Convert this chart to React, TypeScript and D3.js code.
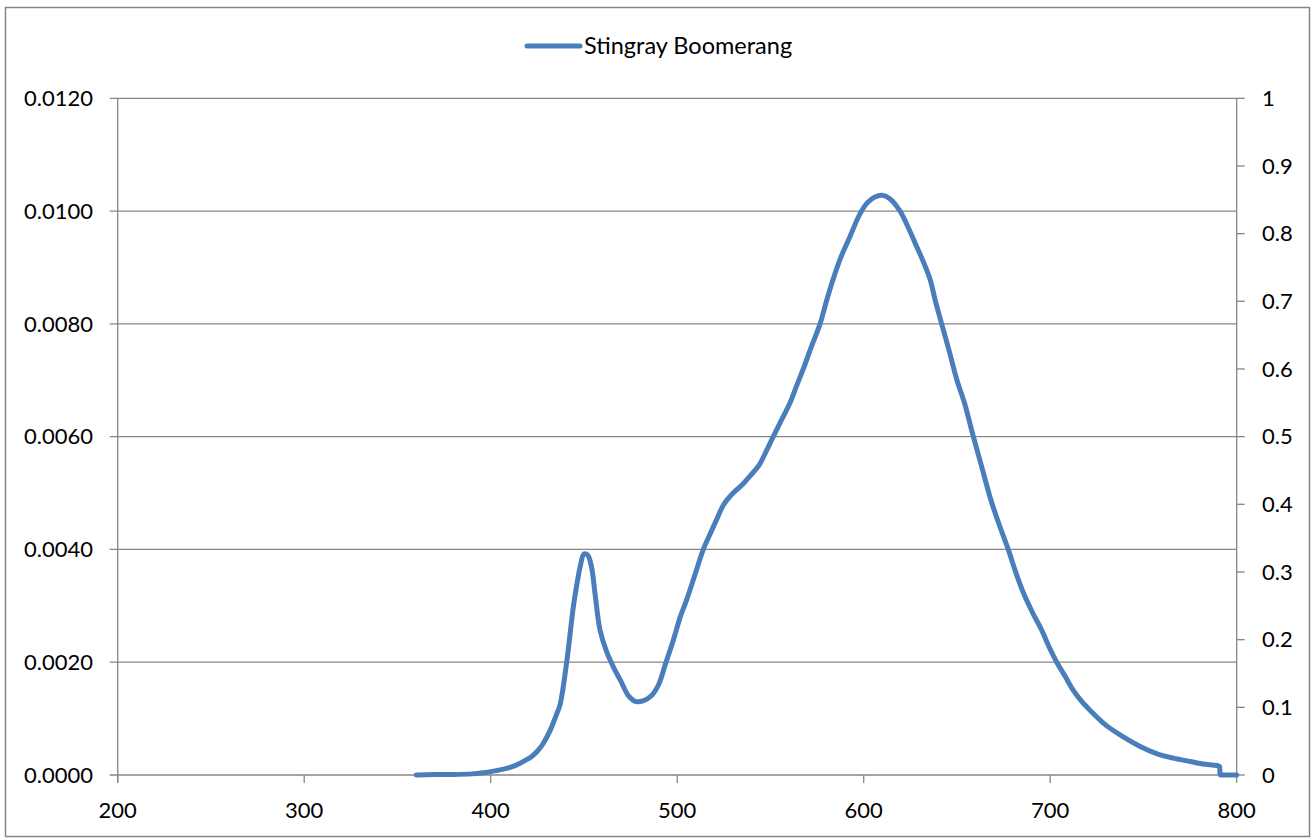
import React from "react";
import * as d3 from "d3";

const wavelengths: number[] = [
  360, 370, 380, 390, 396, 400, 405, 410, 414, 418, 422, 425, 428, 432, 435, 437.2, 440.7, 444.3, 446.1, 448, 450, 452, 454, 456, 458.6, 462, 466, 470, 474, 478, 482, 486, 490, 494, 498, 501.6, 505, 510, 514, 518, 521, 525, 530, 535, 539, 544, 548, 551.5, 556, 560.5, 564, 567.6, 572, 576.6, 580, 583.7, 588, 592, 598, 602, 606, 610, 614, 619.5, 624, 628, 632, 635.5, 638.5, 641.8, 646, 650, 654, 658.8, 663, 668, 672, 677.5, 682, 686, 691, 695, 699, 703.5, 708, 712.4, 717, 721.3, 730, 739, 748, 757, 766, 775, 783, 790.3, 790.8, 791.2, 791.6, 800,
];

const stingrayBoomerang: number[] = [
  0, 0.00001, 0.00001, 0.00002, 0.00004, 0.00006, 0.00009, 0.00013, 0.00018, 0.00025, 0.00033, 0.00042, 0.00055, 0.0008, 0.00105, 0.00125, 0.00199, 0.00298, 0.00336, 0.0037, 0.00392, 0.0039, 0.0037, 0.0032, 0.00257, 0.0022, 0.0019, 0.00165, 0.0014, 0.0013, 0.00132, 0.0014, 0.0016, 0.002, 0.0024, 0.0028, 0.0031, 0.0036, 0.004, 0.0043, 0.00452, 0.0048, 0.005, 0.00515, 0.0053, 0.0055, 0.00576, 0.006, 0.0063, 0.0066, 0.0069, 0.0072, 0.0076, 0.008, 0.0084, 0.0088, 0.0092, 0.0095, 0.00995, 0.01015, 0.01025, 0.01028, 0.01022, 0.01, 0.0097, 0.0094, 0.0091, 0.0088, 0.0084, 0.008, 0.0075, 0.007, 0.0066, 0.006, 0.0055, 0.0049, 0.0045, 0.004, 0.00355, 0.0032, 0.00285, 0.0026, 0.0023, 0.002, 0.00175, 0.0015, 0.0013, 0.00115, 0.00088, 0.00068, 0.00051, 0.00038, 0.0003, 0.00024, 0.00019, 0.00016, 0.00015, 0, 0, 0,
];

const xTicks: number[] = [200, 300, 400, 500, 600, 700, 800];
const leftTicks: number[] = [0, 0.002, 0.004, 0.006, 0.008, 0.01, 0.012];
const rightTicks: number[] = [0, 0.1, 0.2, 0.3, 0.4, 0.5, 0.6, 0.7, 0.8, 0.9, 1];
const seriesName = "Stingray Boomerang";

const W = 1314;
const H = 839;
const FONT = "Lato, 'Open Sans', sans-serif";
const GRID = "#868686";
const BLUE = "#4A7EBB";

export default function App() {
  const left = 117.7;
  const right = 1236.7;
  const top = 98.3;
  const bottom = 775;

  const x = d3.scaleLinear().domain([200, 800]).range([left, right]);
  const y = d3.scaleLinear().domain([0, 0.012]).range([bottom, top]);
  const y2 = d3.scaleLinear().domain([0, 1]).range([bottom, top]);

  const pts: [number, number][] = wavelengths.map((w, i) => [w, stingrayBoomerang[i]]);
  const line = d3
    .line<[number, number]>()
    .x((d) => x(d[0]))
    .y((d) => y(d[1]))
    .curve(d3.curveCatmullRom.alpha(0.5));

  const fmtL = d3.format(".4f");
  const fmtR = (v: number) => String(+v.toFixed(1));

  return (
    <svg
      width={W}
      height={H}
      style={{ position: "absolute", left: 0, top: 0, background: "#fff" }}
      fontFamily={FONT}
    >
      <rect x={5.5} y={7.5} width={1304} height={829} fill="#fff" stroke={GRID} strokeWidth={1.5} />

      {leftTicks.map((t) => (
        <line key={"g" + t} x1={left - 8} x2={right} y1={y(t)} y2={y(t)} stroke={GRID} strokeWidth={1.3} />
      ))}
      <line x1={left} x2={left} y1={top} y2={bottom + 8} stroke={GRID} strokeWidth={1.3} />
      {leftTicks.map((t) => (
        <text key={"l" + t} x={93} y={y(t)} dy="0.35em" textAnchor="end" fontSize={22} fill="#000">
          {fmtL(t)}
        </text>
      ))}
      <line x1={right} x2={right} y1={top} y2={bottom} stroke={GRID} strokeWidth={1.3} />
      {rightTicks.map((t) => (
        <g key={"r" + t}>
          <line x1={right} x2={right + 8} y1={y2(t)} y2={y2(t)} stroke={GRID} strokeWidth={1.3} />
          <text x={1262} y={y2(t)} dy="0.35em" textAnchor="start" fontSize={22} fill="#000">
            {fmtR(t)}
          </text>
        </g>
      ))}
      {xTicks.map((t) => (
        <g key={"x" + t}>
          <line x1={x(t)} x2={x(t)} y1={bottom} y2={bottom + 8} stroke={GRID} strokeWidth={1.3} />
          <text x={x(t)} y={810} dy="0.35em" textAnchor="middle" fontSize={22} fill="#000">
            {t}
          </text>
        </g>
      ))}

      <path d={line(pts) || ""} fill="none" stroke={BLUE} strokeWidth={5} strokeLinejoin="round" strokeLinecap="round" />

      <line x1={527} x2={580} y1={46} y2={46} stroke={BLUE} strokeWidth={5} strokeLinecap="round" />
      <text x={584} y={46} dy="0.35em" fontSize={23.5} fill="#000">
        {seriesName}
      </text>
    </svg>
  );
}
